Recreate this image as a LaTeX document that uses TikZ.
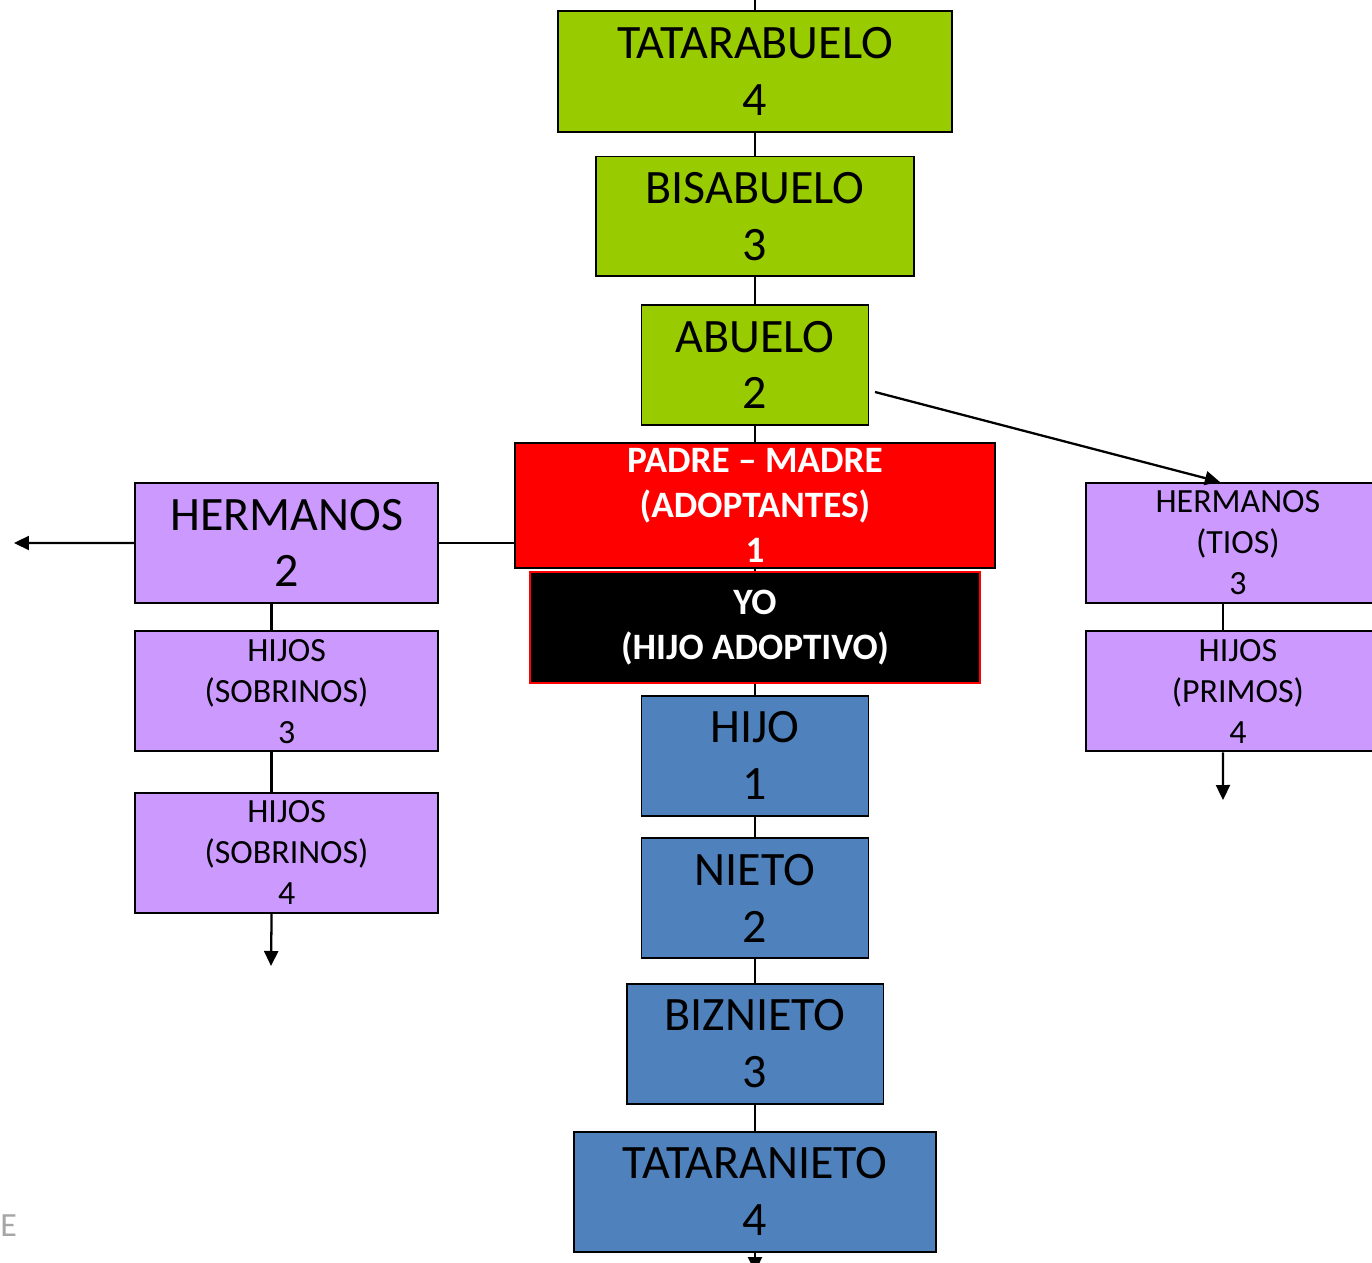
\documentclass[tikz,border=0pt]{standalone}
\usepackage{fontspec}
\setmainfont{Carlito}
\usetikzlibrary{shapes,positioning,arrows.meta,calc}

\definecolor{verde}{HTML}{99CC00}
\definecolor{lila}{HTML}{CC99FF}
\definecolor{azul}{HTML}{4F81BD}

\begin{document}
\begin{tikzpicture}[
				x=0.02cm, y=-0.02cm,
				node distance = 2.9cm,
				caja/.style={
					rectangle,
					draw,
					line width=1.1pt,
					inner sep=0pt,
					align=center,
					minimum height=2.4cm
					},
				letragrande/.style={font=\fontsize{27.3}{32.4}\selectfont},
				letrachica/.style={font=\fontsize{19.3}{23.3}\selectfont},
				ascendiente/.style={caja, letragrande, fill=verde},
				descendiente/.style={caja, letragrande, fill=azul},
				colateral/.style={caja, fill=lila, minimum width=6.06cm},
				padres/.style={
					caja,
					fill=red,
					text=white,
					minimum width=9.6cm,
					minimum height=2.5cm,
					font=\bfseries\fontsize{21.2}{25.6}\selectfont
					},
				adoptado/.style={
					caja,
					fill=black,
					draw=red,
					text=white,
					minimum width=9cm,
					minimum height=2.22cm,
					font=\bfseries\fontsize{21.2}{25.6}\selectfont
					},
				line/.style={
					draw,
					line width=1.3pt
					},
				arrow/.style={
					line,
					-{Triangle[length=0.3cm,width=0.28cm]}
					}]
			    \useasboundingbox (0,0) rectangle (1372,1263);
			    % Place nodes
			    \node [ascendiente, minimum width=7.88cm, minimum height=2.42cm] (tatarabuelo) at (755,71.5) {TATARABUELO\\4};
			    \node [ascendiente, minimum width=6.36cm, below of=tatarabuelo] (bisabuelo) {BISABUELO\\3};
			    \node [ascendiente, minimum width=4.54cm, below of=bisabuelo, node distance=2.97cm] (abuelo) {ABUELO\\2};
			    \node [padres, below of=abuelo, node distance=2.81cm] (padres) {PADRE – MADRE\\(ADOPTANTES)\\1};
			    \node [adoptado, below of=padres, node distance=2.44cm] (yo) {YO\\(HIJO ADOPTIVO)};
			    \node [descendiente, minimum width=4.54cm, below of=yo, node distance=2.57cm] (hijo) {HIJO\\1};
			    \node [descendiente, minimum width=4.54cm, below of=hijo, node distance=2.85cm] (nieto) {NIETO\\2};
			    \node [descendiente, minimum width=5.14cm, below of=nieto, node distance=2.91cm] (biznieto) {BIZNIETO\\3};
			    \node [descendiente, minimum width=7.24cm, below of=biznieto, node distance=2.96cm] (tataranieto) {TATARANIETO\\4};

			    \node [colateral, letragrande, left of=padres, node distance=9.37cm, yshift=-0.75cm] (hermanos) {HERMANOS\\2};
			    \node [colateral, letrachica, below of=hermanos, node distance=2.97cm] (sobrinos3) {HIJOS\\(SOBRINOS)\\3};
			    \node [colateral, letrachica, below of=sobrinos3, node distance=3.23cm] (sobrinos4) {HIJOS\\(SOBRINOS)\\4};
			    \node [colateral, letrachica, right of=padres, node distance=9.66cm, yshift=-0.75cm] (tios) {HERMANOS\\(TIOS)\\3};
			    \node [colateral, letrachica, below of=tios, node distance=2.97cm] (primos) {HIJOS\\(PRIMOS)\\4};

			    \node [letrachica, anchor=west, inner sep=0pt, text=gray!70] (marca) at (0,1226) {E};

			    % Free ends
			    \coordinate (arriba) at (755,-10);
			    \coordinate (abajo) at (755,1272);
			    \coordinate (izquierda) at (14,543);
			    \coordinate (desdeabuelo) at (875,392);
			    \coordinate (finsobrinos) at (271,966);
			    \coordinate (finprimos) at (1223,800);

			    % Draw edges
			    \path [line] (arriba) -- (tatarabuelo);
			    \path [line] (tatarabuelo) -- (bisabuelo);
			    \path [line] (bisabuelo) -- (abuelo);
			    \path [line] (abuelo) -- (padres);
			    \path [line] (padres) -- (yo);
			    \path [line] (yo) -- (hijo);
			    \path [line] (hijo) -- (nieto);
			    \path [line] (nieto) -- (biznieto);
			    \path [line] (biznieto) -- (tataranieto);
			    \path [arrow] (tataranieto) -- (abajo);
			    \path [arrow] (hermanos) -- (izquierda);
			    \path [line] (hermanos.east) -- (hermanos.east -| padres.west);
			    \path [line] ([xshift=-0.3cm]hermanos.south) -- ([xshift=-0.3cm]sobrinos3.north);
			    \path [line] ([xshift=-0.3cm]sobrinos3.south) -- ([xshift=-0.3cm]sobrinos4.north);
			    \path [arrow] ([xshift=-0.3cm]sobrinos4.south) -- (finsobrinos);
			    \path [arrow] (desdeabuelo) -- ([xshift=-0.36cm]tios.north);
			    \path [line] ([xshift=-0.3cm]tios.south) -- ([xshift=-0.3cm]primos.north);
			    \path [arrow] ([xshift=-0.3cm]primos.south) -- (finprimos);
			\end{tikzpicture}
\end{document}
